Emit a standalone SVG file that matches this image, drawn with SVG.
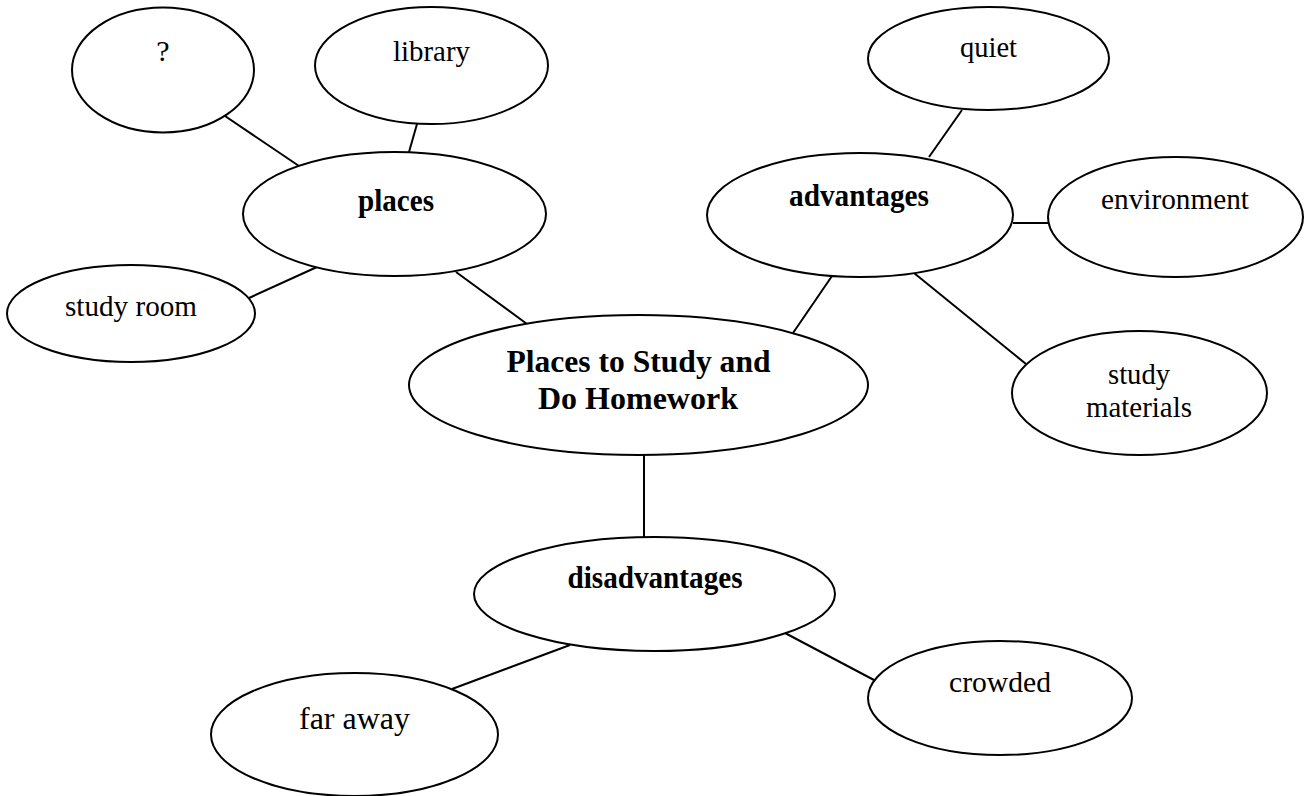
<svg xmlns="http://www.w3.org/2000/svg" width="1308" height="796" viewBox="0 0 1308 796">
<style>
.n{fill:#fff;stroke:#000;stroke-width:2}
.c{stroke:#000;stroke-width:2;fill:none}
.t{font-family:"Liberation Serif","Times New Roman",serif;font-size:30px;fill:#000;text-anchor:middle}
.b{font-weight:bold;font-size:31px}
</style>
<rect width="1308" height="796" fill="#fff"/>
<g id="connectors">
<line class="c" x1="225" y1="116" x2="299" y2="166"/>
<line class="c" x1="417" y1="124" x2="409" y2="152"/>
<line class="c" x1="249" y1="298" x2="317" y2="267"/>
<line class="c" x1="456" y1="272" x2="527" y2="324"/>
<line class="c" x1="832" y1="276" x2="793" y2="333"/>
<line class="c" x1="962" y1="110" x2="929" y2="157"/>
<line class="c" x1="1013" y1="223" x2="1048" y2="223"/>
<line class="c" x1="914" y1="273" x2="1026" y2="364"/>
<line class="c" x1="644" y1="455" x2="644" y2="537"/>
<line class="c" x1="570" y1="645" x2="452" y2="689"/>
<line class="c" x1="785" y1="633" x2="874" y2="680"/>
</g>
<g id="q"><ellipse class="n" cx="163" cy="70" rx="91" ry="62.5"/><text class="t" x="163" y="61">?</text></g>
<g id="library"><ellipse class="n" cx="431.5" cy="65.5" rx="116.5" ry="58.5"/><text class="t" x="431.5" y="61" textLength="77" lengthAdjust="spacingAndGlyphs">library</text></g>
<g id="places"><ellipse class="n" cx="394.5" cy="214" rx="151.5" ry="62"/><text class="t b" x="396" y="211" textLength="76" lengthAdjust="spacingAndGlyphs">places</text></g>
<g id="studyroom"><ellipse class="n" cx="131" cy="313.5" rx="124" ry="48.5"/><text class="t" x="131" y="315.5" textLength="132" lengthAdjust="spacingAndGlyphs">study room</text></g>
<g id="center"><ellipse class="n" cx="638.5" cy="385" rx="229.5" ry="70"/><text class="t b" x="638.5" y="372" textLength="264" lengthAdjust="spacingAndGlyphs">Places to Study and</text><text class="t b" x="638" y="409" textLength="200" lengthAdjust="spacingAndGlyphs">Do Homework</text></g>
<g id="advantages"><ellipse class="n" cx="860" cy="215" rx="153" ry="62"/><text class="t b" x="859" y="205.5" textLength="140" lengthAdjust="spacingAndGlyphs">advantages</text></g>
<g id="quiet"><ellipse class="n" cx="988.5" cy="58.5" rx="120.5" ry="51.5"/><text class="t" x="988.5" y="57" textLength="57" lengthAdjust="spacingAndGlyphs">quiet</text></g>
<g id="environment"><ellipse class="n" cx="1175.5" cy="217" rx="127.5" ry="60"/><text class="t" x="1175" y="209" textLength="148" lengthAdjust="spacingAndGlyphs">environment</text></g>
<g id="studymaterials"><ellipse class="n" cx="1139.5" cy="393" rx="127.5" ry="62"/><text class="t" x="1139" y="384" textLength="62" lengthAdjust="spacingAndGlyphs">study</text><text class="t" x="1139" y="417" textLength="106" lengthAdjust="spacingAndGlyphs">materials</text></g>
<g id="disadvantages"><ellipse class="n" cx="654.5" cy="594" rx="180.5" ry="57"/><text class="t b" x="655" y="588" textLength="175" lengthAdjust="spacingAndGlyphs">disadvantages</text></g>
<g id="faraway"><ellipse class="n" cx="354.5" cy="734.5" rx="143.5" ry="61.5"/><text class="t" x="354.5" y="729" style="font-size:32px" textLength="111" lengthAdjust="spacingAndGlyphs">far away</text></g>
<g id="crowded"><ellipse class="n" cx="1000" cy="698" rx="132" ry="57"/><text class="t" x="1000" y="692" textLength="102" lengthAdjust="spacingAndGlyphs">crowded</text></g>
</svg>
